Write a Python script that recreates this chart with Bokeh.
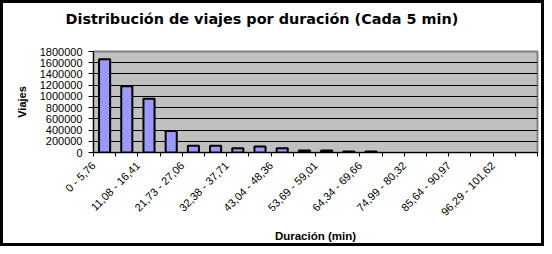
import math
from bokeh.plotting import figure
from bokeh.models import FixedTicker, ColumnDataSource, Title
from bokeh.embed import file_html
from bokeh.resources import INLINE

categories = ["0 - 5,76", "5,76 - 11,08", "11,08 - 16,41", "16,41 - 21,73", "21,73 - 27,06",
              "27,06 - 32,38", "32,38 - 37,71", "37,71 - 43,04", "43,04 - 48,36", "48,36 - 53,69",
              "53,69 - 59,01", "59,01 - 64,34", "64,34 - 69,66", "69,66 - 74,99", "74,99 - 80,32",
              "80,32 - 85,64", "85,64 - 90,97", "90,97 - 96,29", "96,29 - 101,62", "101,62 - 106,94"]
viajes = [1660000, 1180000, 960000, 385000, 120000, 120000, 75000, 105000, 75000, 35000,
          35000, 20000, 20000, 0, 0, 0, 0, 0, 0, 0]
y_ticks = [0, 200000, 400000, 600000, 800000, 1000000, 1200000, 1400000, 1600000, 1800000]

FONT = "Liberation Sans"

n = len(categories)
xs = [i + 0.5 for i in range(n) if viajes[i] > 0]
tops = [v for v in viajes if v > 0]
src = ColumnDataSource(dict(x=xs, top=tops))

p = figure(width=544, height=246, output_backend="svg", toolbar_location=None,
           x_range=(0, n), y_range=(0, 1800000),
           min_border_left=90, min_border_right=10, min_border_top=48, min_border_bottom=97)

# real title (outer panel) + a blank spacer panel between it and the frame
p.title = Title(text="Distribución de viajes por duración (Cada 5 min)", align="left",
                offset=-28, text_font="DejaVu Sans", text_font_size="14.4px",
                text_font_style="bold", text_color="black", standoff=4)
p.add_layout(Title(text=" ", text_font_size="2px", standoff=19), "above")

p.background_fill_color = "#C0C0C0"
p.border_fill_color = "white"
p.outline_line_color = "#808080"
p.outline_line_width = 2
p.styles = {"border": "3px solid black"}

p.vbar(x="x", top="top", width=0.5, source=src, fill_color="#9999FF",
       line_color="black", line_width=2)

p.xgrid.grid_line_color = None
p.ygrid.grid_line_color = "black"
p.ygrid.grid_line_width = 1
p.ygrid.ticker = FixedTicker(ticks=y_ticks)

p.yaxis.ticker = FixedTicker(ticks=y_ticks)
p.yaxis.formatter.use_scientific = False
p.yaxis.major_label_text_font = FONT
p.yaxis.major_label_text_font_size = "11px"
p.yaxis.major_label_text_color = "black"
p.yaxis.major_tick_out = 5
p.yaxis.major_tick_in = 0
p.yaxis.minor_tick_line_color = None
p.yaxis.axis_line_color = "black"
p.yaxis.major_tick_line_color = "black"
p.yaxis.major_label_standoff = 6
p.yaxis.axis_label = "Viajes"
p.yaxis.axis_label_text_font = FONT
p.yaxis.axis_label_text_font_size = "11px"
p.yaxis.axis_label_text_font_style = "bold"
p.yaxis.axis_label_text_color = "black"
p.yaxis.axis_label_standoff = 9

p.xaxis.ticker = FixedTicker(ticks=list(range(n + 1)))
p.xaxis.major_label_overrides = {i: (categories[i] if i % 2 == 0 and i < n else "") for i in range(n + 1)}
p.xaxis.major_label_orientation = math.pi / 4
p.xaxis.major_label_text_font = FONT
p.xaxis.major_label_text_font_size = "11px"
p.xaxis.major_label_text_color = "black"
p.xaxis.major_tick_out = 4
p.xaxis.major_tick_in = 0
p.xaxis.minor_tick_line_color = None
p.xaxis.axis_line_color = "black"
p.xaxis.major_tick_line_color = "black"
p.xaxis.major_label_standoff = 7
p.xaxis.axis_label = "Duración (min)"
p.xaxis.axis_label_text_font = FONT
p.xaxis.axis_label_text_font_size = "11.5px"
p.xaxis.axis_label_text_font_style = "bold"
p.xaxis.axis_label_text_color = "black"
p.xaxis.axis_label_standoff = 5

open("out.html", "w").write(file_html(p, INLINE))
